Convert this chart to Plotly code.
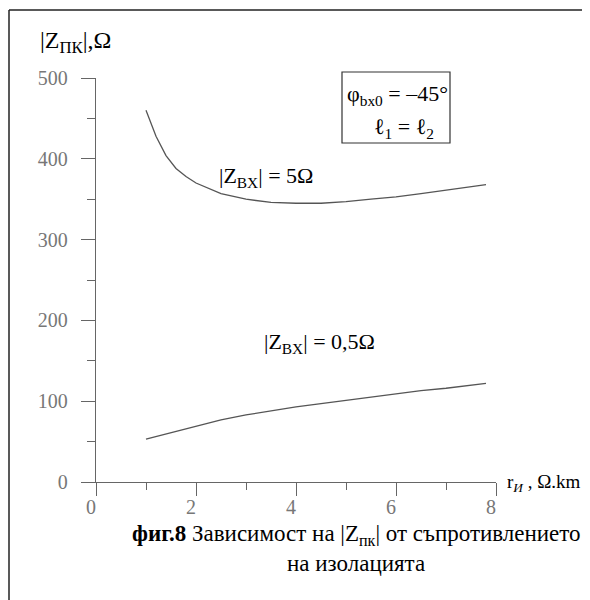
import plotly.graph_objects as go

# ---- data ----
r_upper = [1.0, 1.2, 1.4, 1.6, 1.8, 2.0, 2.5, 3.0, 3.5, 4.0, 4.5, 5.0, 5.5, 6.0, 6.5, 7.0, 7.5, 7.8]
z_upper = [460, 428, 404, 388, 378, 370, 357, 350, 346, 345, 345, 347, 350, 353, 357, 361, 365, 368]

r_lower = [1.0, 1.5, 2.0, 2.5, 3.0, 3.5, 4.0, 4.5, 5.0, 5.5, 6.0, 6.5, 7.0, 7.5, 7.8]
z_lower = [53, 61, 69, 77, 83, 88, 93, 97, 101, 105, 109, 113, 116, 120, 122]

x_ticks = [0, 2, 4, 6, 8]
y_ticks = [0, 100, 200, 300, 400, 500]

# page has an 8px body margin; work in screen pixels and convert
O = 8
W, H = 590 - O, 600 - O
L, T = 96 - O, 78 - O
R = W - (496 - O)
B = H - (482 - O)
PW, PH = W - L - R, H - T - B


def px(x):
    return (x - O - L) / PW


def py(y):
    return (H - B - (y - O)) / PH


FONT = "Liberation Serif, Times New Roman, serif"
LINE = "#555555"
AX = "#666666"

fig = go.Figure()
fig.add_trace(go.Scatter(x=r_upper, y=z_upper, mode="lines",
                         line=dict(color=LINE, width=1.3), showlegend=False))
fig.add_trace(go.Scatter(x=r_lower, y=z_lower, mode="lines",
                         line=dict(color=LINE, width=1.3), showlegend=False))

fig.update_layout(
    width=W, height=H,
    margin=dict(l=L, r=R, t=T, b=B),
    paper_bgcolor="white", plot_bgcolor="white",
    font=dict(family=FONT, color="black"),
    showlegend=False,
)
fig.update_xaxes(range=[0, 8], tickvals=x_ticks, ticks="outside", ticklen=13,
                 tickcolor=AX, tickwidth=1.3, showline=True, linecolor=AX, linewidth=1.3,
                 showgrid=False, zeroline=False,
                 tickfont=dict(family=FONT, size=20, color="#777777"),
                 ticklabelshift=-5, ticklabelstandoff=-6,
                 minor=dict(dtick=1, ticks="outside", ticklen=7, tickcolor=AX, tickwidth=1.3))
fig.update_yaxes(range=[0, 500], tickvals=y_ticks, ticks="outside", ticklen=14,
                 tickcolor=AX, tickwidth=1.3, showline=True, linecolor=AX, linewidth=1.3,
                 showgrid=False, zeroline=False,
                 tickfont=dict(family=FONT, size=20, color="#777777"),
                 ticklabelstandoff=9,
                 minor=dict(dtick=50, ticks="outside", ticklen=8, tickcolor=AX, tickwidth=1.3))

# outer frame (top and left edges)
fig.add_shape(type="line", xref="paper", yref="paper", x0=px(9), x1=px(600), y0=py(10), y1=py(10),
              line=dict(color="#222222", width=1.5))
fig.add_shape(type="line", xref="paper", yref="paper", x0=px(9), x1=px(9), y0=py(10), y1=py(610),
              line=dict(color="#222222", width=1.5))

# parameter box
fig.add_shape(type="rect", xref="paper", yref="paper", x0=px(342), x1=px(450), y0=py(72), y1=py(143),
              line=dict(color="#333333", width=1.2))


def ann(text, x, y, size=20, xanchor="left", color="black"):
    fig.add_annotation(text=text, xref="paper", yref="paper", x=px(x), y=py(y),
                       xanchor=xanchor, yanchor="middle", showarrow=False,
                       font=dict(family=FONT, size=size, color=color))


ann("|Z<sub>ПК</sub>|,Ω", 38, 42, size=24)
ann("φ<sub>bx0</sub> = –45°", 345, 95, size=22)
ann("ℓ<sub>1</sub> = ℓ<sub>2</sub>", 372, 128, size=22)
ann("|Z<sub>BX</sub>| = 5Ω", 217, 177, size=22)
ann("|Z<sub>BX</sub>| = 0,5Ω", 262, 343, size=22)
ann("r<sub><i>И</i></sub> , Ω.km", 505, 483, size=19)
ann("<b>фиг.8</b> Зависимост на |Z<sub>пк</sub>| от съпротивлението", 356, 535, size=23, xanchor="center")
ann("на изолацията", 356, 563, size=23, xanchor="center")

fig.write_html("out.html")
